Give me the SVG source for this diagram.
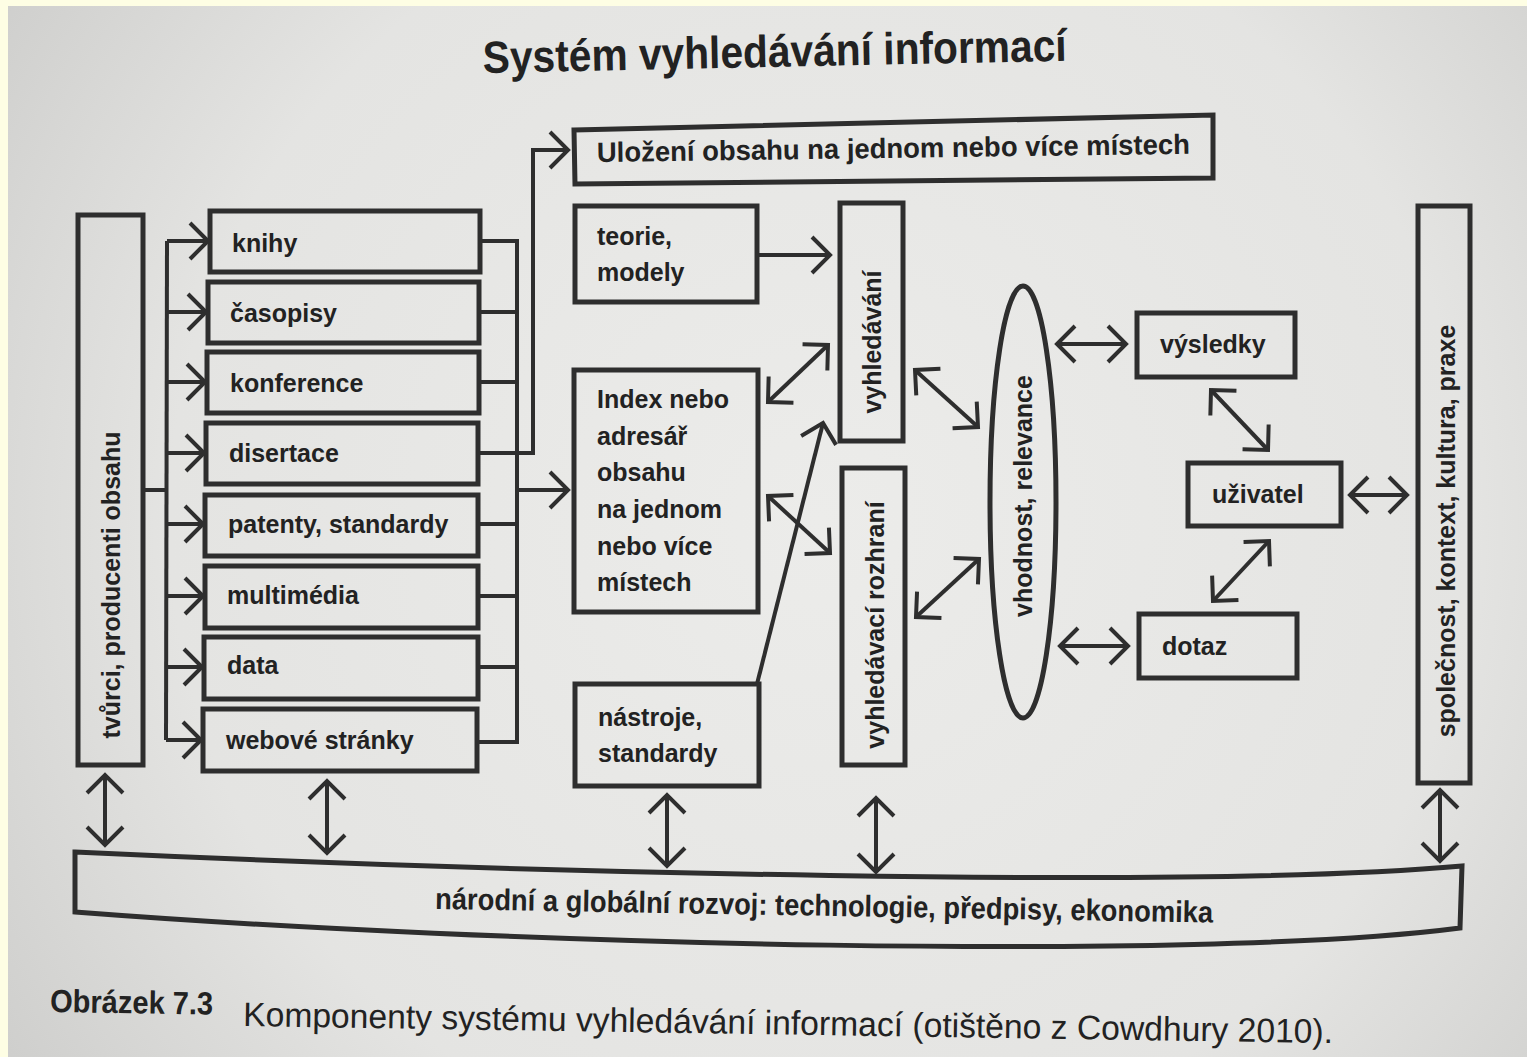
<svg xmlns="http://www.w3.org/2000/svg" width="1527" height="1057" viewBox="0 0 1527 1057">
  <defs>
    <radialGradient id="paper" cx="820" cy="520" r="1000" gradientUnits="userSpaceOnUse">
      <stop offset="0" stop-color="#ececea"/>
      <stop offset="0.65" stop-color="#e4e4e2"/>
      <stop offset="1" stop-color="#cdcdcb"/>
    </radialGradient>
    <marker id="head" viewBox="-22 -22 26 44" refX="0" refY="0" markerWidth="26" markerHeight="44" markerUnits="userSpaceOnUse" orient="auto-start-reverse" overflow="visible">
      <path d="M-18,-18 L0,0 L-18,18" fill="none" stroke="#2e2e2e" stroke-width="4"/>
    </marker>
    <style>
      .box { fill: none; stroke: #2e2e2e; stroke-width: 5; }
      .line { fill: none; stroke: #2e2e2e; stroke-width: 4; }
      .one { marker-end: url(#head); }
      .two { marker-start: url(#head); marker-end: url(#head); }
      .lbl { font-family: "Liberation Sans", Arial, sans-serif; font-weight: bold; font-size: 25px; fill: #222; }
      .cond { font-family: "Liberation Sans", Arial, sans-serif; font-weight: bold; fill: #222; }
      .cap { font-family: "Liberation Sans", Arial, sans-serif; fill: #222; }
    </style>
  </defs>

  <!-- page -->
  <rect x="0" y="0" width="1527" height="1057" fill="#fefee4"/>
  <rect x="8" y="6" width="1519" height="1051" fill="url(#paper)"/>

  <!-- heading -->
  <text class="cond" x="483" y="73" font-size="45" textLength="584" lengthAdjust="spacingAndGlyphs" transform="rotate(-1.2 483 73)">Systém vyhledávání informací</text>

  <!-- connectors -->
  <g id="connectors">
    <!-- producers fan out to the source types -->
    <polyline class="line" points="143,490 167,490"/>
    <polyline class="line" points="167,241 166,740"/>
    <line class="line one" x1="167" y1="241" x2="208" y2="241"/>
    <line class="line one" x1="167" y1="312" x2="206" y2="312"/>
    <line class="line one" x1="167" y1="382" x2="205" y2="382"/>
    <line class="line one" x1="167" y1="453" x2="204" y2="453"/>
    <line class="line one" x1="166" y1="524" x2="203" y2="524"/>
    <line class="line one" x1="166" y1="596" x2="203" y2="596"/>
    <line class="line one" x1="166" y1="667" x2="202" y2="667"/>
    <line class="line one" x1="166" y1="740" x2="201" y2="740"/>

    <!-- source types collect into the index -->
    <line class="line" x1="480" y1="241" x2="517" y2="241"/>
    <line class="line" x1="479" y1="312" x2="517" y2="312"/>
    <line class="line" x1="479" y1="382" x2="517" y2="382"/>
    <line class="line" x1="478" y1="524" x2="517" y2="524"/>
    <line class="line" x1="478" y1="596" x2="517" y2="596"/>
    <line class="line" x1="478" y1="667" x2="517" y2="667"/>
    <line class="line" x1="477" y1="742" x2="517" y2="742"/>
    <line class="line" x1="517" y1="239" x2="517" y2="744"/>
    <line class="line one" x1="517" y1="490" x2="568" y2="490"/>

    <!-- route to storage -->
    <polyline class="line" points="478,453 533,453 533,150"/>
    <line class="line one" x1="531" y1="150" x2="568" y2="150"/>

    <!-- middle column to search -->
    <line class="line one" x1="757" y1="255" x2="830" y2="255"/>
    <line class="line two" x1="768" y1="402" x2="828" y2="345"/>
    <line class="line two" x1="768" y1="496" x2="830" y2="553"/>
    <line class="line one" x1="757" y1="684" x2="823" y2="423"/>

    <!-- search to relevance -->
    <line class="line two" x1="915" y1="370" x2="978" y2="427"/>
    <line class="line two" x1="916" y1="617" x2="979" y2="559"/>

    <!-- relevance, results, query, user -->
    <line class="line two" x1="1057" y1="344" x2="1126" y2="344"/>
    <line class="line two" x1="1060" y1="646" x2="1128" y2="646"/>
    <line class="line two" x1="1211" y1="390" x2="1268" y2="450"/>
    <line class="line two" x1="1213" y1="601" x2="1269" y2="541"/>
    <line class="line two" x1="1350" y1="495" x2="1407" y2="495"/>

    <!-- links to the development band -->
    <line class="line two" x1="105" y1="775" x2="105" y2="845"/>
    <line class="line two" x1="327" y1="781" x2="327" y2="853"/>
    <line class="line two" x1="667" y1="795" x2="667" y2="866"/>
    <line class="line two" x1="876" y1="798" x2="876" y2="872"/>
    <line class="line two" x1="1440" y1="790" x2="1440" y2="861"/>
  </g>

  <!-- producers -->
  <g id="producers">
    <rect class="box" x="78" y="215" width="65" height="550"/>
    <text class="lbl" transform="translate(120 585) rotate(-90)" text-anchor="middle">tvůrci, producenti obsahu</text>
  </g>

  <!-- source types -->
  <g id="knihy">
    <rect class="box" x="210" y="211" width="270" height="61"/>
    <text class="lbl" x="232" y="252">knihy</text>
  </g>
  <g id="casopisy">
    <rect class="box" x="208" y="282" width="271" height="61"/>
    <text class="lbl" x="230" y="322">časopisy</text>
  </g>
  <g id="konference">
    <rect class="box" x="207" y="352" width="272" height="61"/>
    <text class="lbl" x="230" y="392">konference</text>
  </g>
  <g id="disertace">
    <rect class="box" x="206" y="423" width="272" height="61"/>
    <text class="lbl" x="229" y="462">disertace</text>
  </g>
  <g id="patenty">
    <rect class="box" x="205" y="495" width="273" height="61"/>
    <text class="lbl" x="228" y="533">patenty, standardy</text>
  </g>
  <g id="multimedia">
    <rect class="box" x="205" y="566" width="273" height="62"/>
    <text class="lbl" x="227" y="604">multimédia</text>
  </g>
  <g id="data">
    <rect class="box" x="204" y="637" width="274" height="62"/>
    <text class="lbl" x="227" y="674">data</text>
  </g>
  <g id="webove">
    <rect class="box" x="203" y="709" width="274" height="62"/>
    <text class="lbl" x="226" y="749">webové stránky</text>
  </g>

  <!-- storage -->
  <g id="ulozeni">
    <polygon class="box" points="574,130 1213,115 1213,178 575,184"/>
    <text class="cond" x="597" y="162" font-size="28" textLength="593" lengthAdjust="spacingAndGlyphs" transform="rotate(-0.8 597 162)">Uložení obsahu na jednom nebo více místech</text>
  </g>

  <!-- middle column -->
  <g id="teorie">
    <rect class="box" x="575" y="206" width="182" height="96"/>
    <text class="lbl" x="597" y="245">teorie,</text>
    <text class="lbl" x="597" y="281">modely</text>
  </g>
  <g id="index">
    <rect class="box" x="574" y="370" width="184" height="242"/>
    <text class="lbl" x="597" y="408">Index nebo</text>
    <text class="lbl" x="597" y="445">adresář</text>
    <text class="lbl" x="597" y="481">obsahu</text>
    <text class="lbl" x="597" y="518">na jednom</text>
    <text class="lbl" x="597" y="555">nebo více</text>
    <text class="lbl" x="597" y="591">místech</text>
  </g>
  <g id="nastroje">
    <rect class="box" x="575" y="684" width="184" height="102"/>
    <text class="lbl" x="598" y="726">nástroje,</text>
    <text class="lbl" x="598" y="762">standardy</text>
  </g>

  <!-- search -->
  <g id="vyhledavani">
    <rect class="box" x="840" y="203" width="63" height="238"/>
    <text class="lbl" transform="translate(881 342) rotate(-90)" text-anchor="middle">vyhledávání</text>
  </g>
  <g id="rozhrani">
    <rect class="box" x="842" y="468" width="63" height="297"/>
    <text class="lbl" transform="translate(884 625) rotate(-90)" text-anchor="middle">vyhledávací rozhraní</text>
  </g>

  <!-- relevance -->
  <g id="relevance">
    <ellipse class="box" cx="1023" cy="502" rx="33" ry="216"/>
    <text class="lbl" transform="translate(1032 496) rotate(-90)" text-anchor="middle">vhodnost, relevance</text>
  </g>

  <!-- results, user, query -->
  <g id="vysledky">
    <rect class="box" x="1137" y="313" width="158" height="64"/>
    <text class="lbl" x="1160" y="353">výsledky</text>
  </g>
  <g id="uzivatel">
    <rect class="box" x="1188" y="463" width="153" height="63"/>
    <text class="lbl" x="1212" y="503">uživatel</text>
  </g>
  <g id="dotaz">
    <rect class="box" x="1139" y="614" width="158" height="64"/>
    <text class="lbl" x="1162" y="655">dotaz</text>
  </g>

  <!-- society -->
  <g id="spolecnost">
    <rect class="box" x="1418" y="206" width="52" height="577"/>
    <text class="lbl" transform="translate(1455 531) rotate(-90)" text-anchor="middle">společnost, kontext, kultura, praxe</text>
  </g>

  <!-- development band -->
  <g id="rozvoj">
    <path class="box" d="M75,852 C500,872 1200,890 1462,866 L1460,928 C1200,962 500,945 75,912 Z"/>
    <text class="cond" x="435" y="909" font-size="30" textLength="778" lengthAdjust="spacingAndGlyphs" transform="rotate(1 435 909)">národní a globální rozvoj: technologie, předpisy, ekonomika</text>
  </g>

  <!-- caption -->
  <text class="cond" x="50" y="1012" font-size="32" textLength="163" lengthAdjust="spacingAndGlyphs" transform="rotate(0.9 50 1012)">Obrázek 7.3</text>
  <text class="cap" x="243" y="1026" font-size="34" textLength="1090" lengthAdjust="spacingAndGlyphs" transform="rotate(0.9 243 1026)">Komponenty systému vyhledávání informací (otištěno z Cowdhury 2010).</text>
</svg>
